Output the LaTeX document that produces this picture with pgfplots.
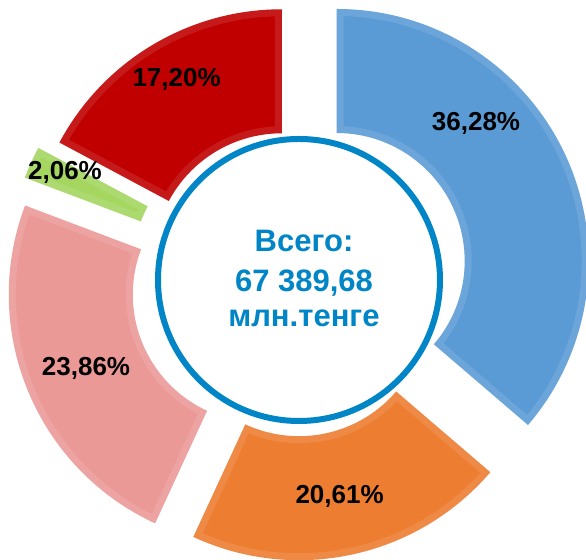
\documentclass[border=0pt]{standalone}
\usepackage{pgfplots}
\pgfplotsset{compat=1.18}
\usepackage{fontspec}
\setmainfont{Liberation Sans}
\definecolor{cBlue}{RGB}{91,155,213}
\definecolor{cOrange}{RGB}{237,125,49}
\definecolor{cPink}{RGB}{234,153,151}
\definecolor{cGreen}{RGB}{164,214,96}
\definecolor{cRed}{RGB}{192,0,0}
\definecolor{cText}{RGB}{0,133,199}
\newcommand\segpath[4]{[shift={(axis cs:#1,#2)}] (#3:126pt) arc[start angle=#3, end angle=#4, radius=126pt]
     -- (#4:64pt) arc[start angle=#4, end angle=#3, radius=64pt] -- cycle}
\newcommand\seg[5]{%
  \fill[#1] \segpath{#2}{#3}{#4}{#5};
  \begin{scope}
  \clip \segpath{#2}{#3}{#4}{#5};
  \draw[white, opacity=0.10, line width=7pt, line join=miter] \segpath{#2}{#3}{#4}{#5};
  \end{scope}}
\begin{document}
\begin{tikzpicture}
% shares in percent, clockwise from 12 o'clock
\pgfmathsetmacro\aA{90}
\pgfmathsetmacro\aB{\aA-36.28*3.6}
\pgfmathsetmacro\aC{\aB-20.61*3.6}
\pgfmathsetmacro\aD{\aC-23.86*3.6}
\pgfmathsetmacro\aE{\aD-2.06*3.6}
\pgfmathsetmacro\aF{\aE-17.20*3.6}
\begin{axis}[x=0.5pt, y=0.5pt, xmin=0, xmax=586, ymin=0, ymax=560,
  hide axis, clip=true, anchor=south west, at={(0,0)}]
\seg{cBlue}{336.7}{299.0}{\aA}{\aB}
\seg{cOrange}{299.0}{251.8}{\aB}{\aC}
\seg{cPink}{260.8}{265.4}{\aC}{\aD}
\seg{cGreen}{260.6}{293.3}{\aD}{\aE}
\seg{cRed}{281.7}{298.7}{\aE}{\aF}
\draw[cText, line width=3pt, fill=white] (axis cs:299,280) circle[radius=70.5pt];
\begin{scope}[every node/.style={font=\bfseries\fontsize{13}{15}\selectfont, anchor=base, inner sep=0pt}]
\node at (axis cs:476,429.3) {36,28\%};
\node at (axis cs:176.6,473.9) {17,20\%};
\node at (axis cs:65,380) {2,06\%};
\node at (axis cs:86,184.7) {23,86\%};
\node at (axis cs:339.6,56.1) {20,61\%};
\end{scope}
\begin{scope}[every node/.style={font=\bfseries\fontsize{15.5}{18}\selectfont, anchor=base, inner sep=0pt, text=cText}]
\node at (axis cs:304,308.3) {Всего:};
\node at (axis cs:304,268.3) {67 389,68};
\node at (axis cs:304,233.3) {млн.тенге};
\end{scope}
\end{axis}
\pgfresetboundingbox
\path[use as bounding box] (0,0) rectangle (293pt,280pt);
\end{tikzpicture}
\end{document}
